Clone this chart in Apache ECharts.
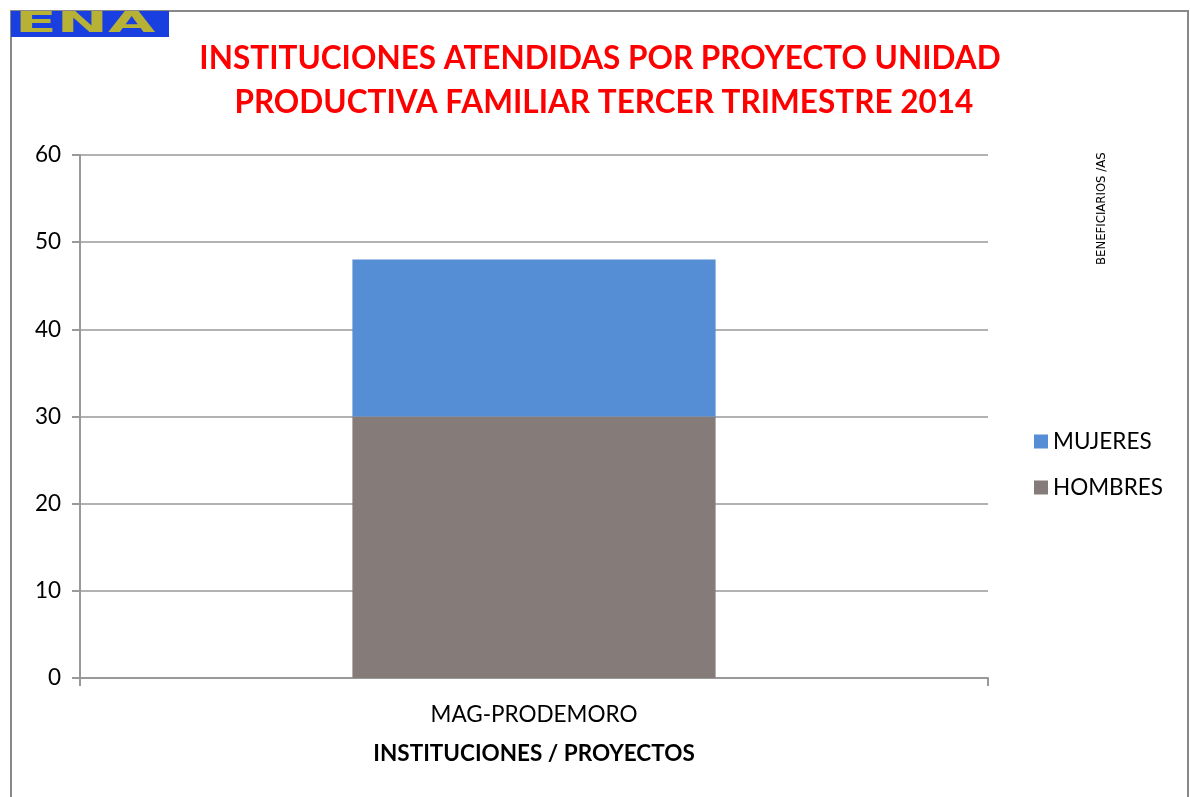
<!DOCTYPE html>
<html>
<head>
<meta charset="utf-8">
<script src="https://cdn.jsdelivr.net/npm/echarts@6/dist/echarts.min.js"></script>
<style>
  html, body { margin: 0; padding: 0; background: #fff; }
  #chart { width: 1190px; height: 797px; }
</style>
</head>
<body>
<div id="chart"></div>
<script>
const categories = ["MAG-PRODEMORO"];
const hombres = [30];
const mujeres = [18];
const yTicks = [0, 10, 20, 30, 40, 50, 60];

const font = "Lato, 'Open Sans', sans-serif";
const chart = echarts.init(document.getElementById("chart"));

const option = {
  animation: false,
  backgroundColor: "#fff",
  title: {
    text: "INSTITUCIONES ATENDIDAS POR PROYECTO UNIDAD\n PRODUCTIVA FAMILIAR TERCER TRIMESTRE 2014",
    left: 595,
    top: 32,
    textAlign: "center",
    textStyle: {
      color: "#ff0000",
      fontFamily: font,
      fontWeight: "bold",
      fontSize: 31.5,
      lineHeight: 44,
    },
  },
  grid: {
    left: 80,
    right: 202,
    top: 155,
    bottom: 119,
  },
  legend: {
    orient: "vertical",
    left: 1029,
    top: 425,
    itemWidth: 14,
    itemHeight: 14,
    itemGap: 23,
    icon: "rect",
    data: ["MUJERES", "HOMBRES"],
    textStyle: { fontFamily: font, fontSize: 22.5, color: "#000" },
  },
  xAxis: {
    type: "category",
    data: categories,
    name: "INSTITUCIONES / PROYECTOS",
    nameLocation: "middle",
    nameGap: 64,
    nameTextStyle: { fontFamily: font, fontWeight: "bold", fontSize: 22.5, color: "#000" },
    axisLine: { lineStyle: { color: "#999", width: 2 } },
    axisTick: { show: true, length: 8, lineStyle: { color: "#999", width: 2 } },
    axisLabel: { fontFamily: font, fontSize: 22.5, color: "#000", margin: 25 },
  },
  yAxis: {
    type: "value",
    min: yTicks[0],
    max: yTicks[yTicks.length - 1],
    interval: 10,
    axisLine: { show: true, lineStyle: { color: "#999", width: 2 } },
    axisTick: { show: true, length: 8, lineStyle: { color: "#999", width: 2 } },
    axisLabel: { fontFamily: font, fontSize: 22.5, color: "#000", margin: 19 },
    splitLine: { lineStyle: { color: "#999", width: 1.5 } },
  },
  series: [
    {
      name: "HOMBRES",
      type: "bar",
      stack: "total",
      data: hombres,
      barWidth: "40%",
      itemStyle: { color: "#857b79" },
    },
    {
      name: "MUJERES",
      type: "bar",
      stack: "total",
      data: mujeres,
      barWidth: "40%",
      itemStyle: { color: "#558ed5" },
    },
  ],
  graphic: [
    {
      type: "polyline",
      shape: { points: [[11, 797], [11, 11], [1188, 11], [1188, 797]] },
      style: { stroke: "#888", lineWidth: 2, fill: null },
    },
    {
      type: "rect",
      shape: { x: 11, y: 11, width: 158, height: 26 },
      style: { fill: "#1a3fe0" },
    },
    {
      type: "text",
      x: 15,
      y: 11,
      scaleX: 2.55,
      scaleY: 1.15,
      style: {
        text: "ENA",
        fill: "#b7b135",
        verticalAlign: "top",
        font: "bold 24px 'DejaVu Sans', sans-serif",
      },
    },
    {
      type: "text",
      x: 1095,
      y: 265,
      rotation: Math.PI / 2,
      style: {
        text: "BENEFICIARIOS /AS",
        fill: "#000",
        font: "13px 'Liberation Sans Narrow', 'DejaVu Sans Condensed', sans-serif",
      },
    },
  ],
};

chart.setOption(option);
</script>
</body>
</html>
